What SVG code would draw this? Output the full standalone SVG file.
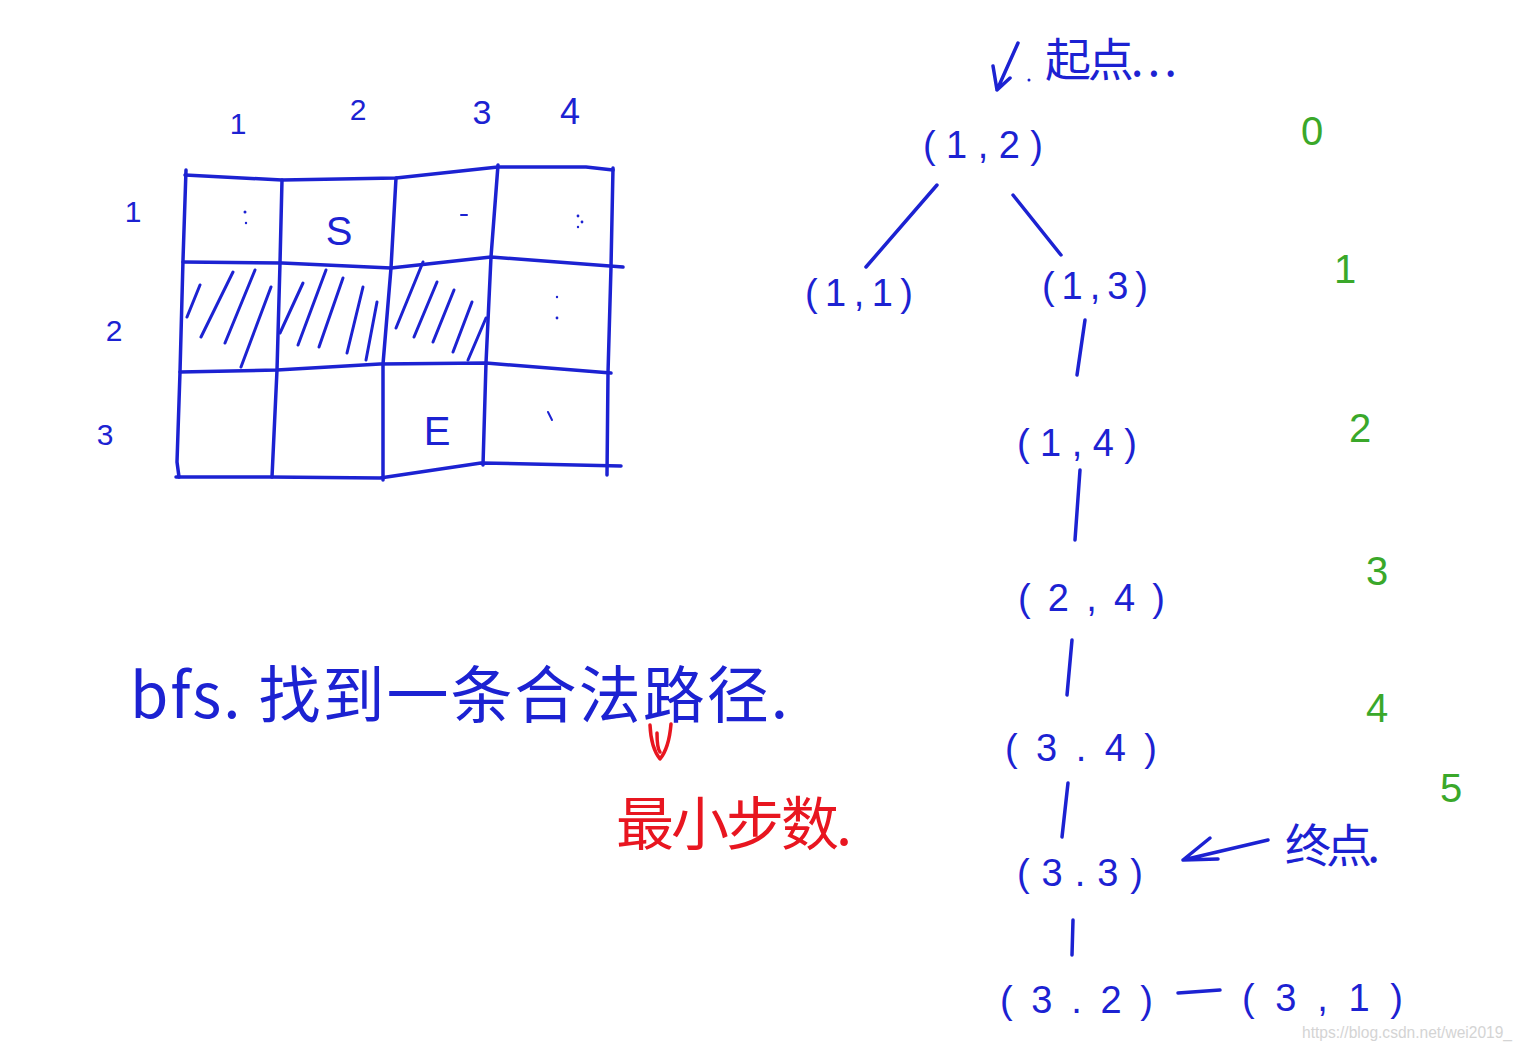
<svg xmlns="http://www.w3.org/2000/svg" width="1526" height="1047" viewBox="0 0 1526 1047">
<style>
.b{fill:none;stroke:#1c22d2;stroke-width:3.5;stroke-linecap:round;stroke-linejoin:round}
.h{fill:none;stroke:#1c22d2;stroke-width:3;stroke-linecap:round}
.r{fill:none;stroke:#e81620;stroke-width:3.5;stroke-linecap:round;stroke-linejoin:round}
.t{font-family:"Liberation Sans","Noto Sans CJK SC",sans-serif;fill:#1c22d2}
.g{font-family:"Liberation Sans",sans-serif;fill:#3aa82a;font-size:40px}
.node{font-family:"Liberation Sans",sans-serif;fill:#1c22d2;font-size:38px}
.cn{font-family:"Noto Sans CJK SC","Liberation Sans",sans-serif}
.dot{fill:#1c22d2}
</style>
<rect width="1526" height="1047" fill="#ffffff"/>

<g id="grid">
<path class="b" d="M185,175 L282,180 L396,178 L498,167 L586,167 L613,170"/>
<path class="b" d="M183,262 L282,263 L391,268 L491,257 L623,267"/>
<path class="b" d="M180,372 L277,370 L380,364 L486,363 L611,373"/>
<path class="b" d="M176,477 L269,477 L380,478 L481,463 L621,466"/>
<path class="b" d="M186,170 L183,260 L180,372 L177,462 L179,477"/>
<path class="b" d="M282,180 L280,263 L277,370 L272,477"/>
<path class="b" d="M396,178 L391,268 L383,364 L383,480"/>
<path class="b" d="M498,165 L491,257 L486,363 L483,465"/>
<path class="b" d="M613,168 L611,267 L608,373 L607,475"/>
<g id="hatch">
<path class="h" d="M200,285 L187,317 M233,272 L201,337 M255,270 L225,343 M271,287 L241,367"/>
<path class="h" d="M303,283 L280,333 M326,270 L298,345 M343,278 L319,347 M363,287 L347,353 M377,302 L366,360"/>
<path class="h" d="M423,262 L396,328 M437,282 L414,337 M454,290 L433,342 M472,302 L453,352 M486,318 L468,360"/>
</g>
<circle class="dot" cx="245" cy="212" r="1.5"/><circle class="dot" cx="246" cy="223" r="1.2"/>
<path class="h" d="M461,215 L467,215" style="stroke-width:2"/>
<circle class="dot" cx="578" cy="216" r="1.4"/><circle class="dot" cx="582" cy="222" r="1.4"/><circle class="dot" cx="578" cy="227" r="1.2"/>
<circle class="dot" cx="557" cy="297" r="1.2"/><circle class="dot" cx="557" cy="318" r="1.4"/>
<path class="h" d="M548,412 L552,420" style="stroke-width:2"/>
<text class="t" x="238" y="134" font-size="30" text-anchor="middle">1</text>
<text class="t" x="358" y="120" font-size="30" text-anchor="middle">2</text>
<text class="t" x="482" y="124" font-size="34" text-anchor="middle">3</text>
<text class="t" x="570" y="124" font-size="36" text-anchor="middle">4</text>
<text class="t" x="133" y="222" font-size="30" text-anchor="middle">1</text>
<text class="t" x="114" y="341" font-size="30" text-anchor="middle">2</text>
<text class="t" x="105" y="445" font-size="30" text-anchor="middle">3</text>
<text class="t" x="339" y="245" font-size="40" text-anchor="middle">S</text>
<text class="t" x="437" y="445" font-size="40" text-anchor="middle">E</text>
</g>

<g id="note-bfs">
<text class="t cn" x="130" y="718" font-size="62" textLength="658" lengthAdjust="spacing">bfs. 找到一条合法路径.</text>
</g>
<g id="note-min">
<path class="r" d="M650,725 Q651,748 660,759 Q669,748 671,724 M657,733 Q657,748 660,752"/>
<text class="cn" x="616" y="845" font-size="58" fill="#e81620" textLength="236" lengthAdjust="spacing">最小步数.</text>
</g>

<g id="start-label">
<path class="b" d="M1018,43 L997,90 M993,66 L997,90 L1010,78"/>
<circle class="dot" cx="1029" cy="80" r="1.5"/>
<text class="t cn" x="1045" y="76" font-size="46" textLength="132" lengthAdjust="spacing">起点. . .</text>
</g>

<g id="end-label">
<text class="t cn" x="1285" y="862" font-size="46" textLength="95" lengthAdjust="spacing">终点.</text>
</g>

<g id="connectors">
<path class="b" d="M937,185 L866,267"/>
<path class="b" d="M1013,195 L1061,255"/>
<path class="b" d="M1085,320 L1077,375"/>
<path class="b" d="M1080,470 L1075,540"/>
<path class="b" d="M1072,640 L1067,695"/>
<path class="b" d="M1068,783 L1062,837"/>
<path class="b" d="M1073,920 L1072,955"/>
<path class="b" d="M1178,993 L1220,990"/>
<path class="b" d="M1268,840 L1183,860 M1210,838 L1183,860 L1218,859"/>
</g>

<g id="node-1-2"><text class="node" x="923" y="158" textLength="120" lengthAdjust="spacing">(1,2)</text></g>
<g id="node-1-1"><text class="node" x="805" y="306" textLength="108" lengthAdjust="spacing">(1,1)</text></g>
<g id="node-1-3"><text class="node" x="1042" y="299" textLength="106" lengthAdjust="spacing">(1,3)</text></g>
<g id="node-1-4"><text class="node" x="1017" y="456" textLength="120" lengthAdjust="spacing">(1,4)</text></g>
<g id="node-2-4"><text class="node" x="1018" y="611" textLength="147" lengthAdjust="spacing">(2,4)</text></g>
<g id="node-3-4"><text class="node" x="1005" y="761" textLength="152" lengthAdjust="spacing">(3.4)</text></g>
<g id="node-3-3"><text class="node" x="1017" y="886" textLength="126" lengthAdjust="spacing">(3.3)</text></g>
<g id="node-3-2"><text class="node" x="1000" y="1013" textLength="153" lengthAdjust="spacing">(3.2)</text></g>
<g id="node-3-1"><text class="node" x="1242" y="1011" textLength="161" lengthAdjust="spacing">(3,1)</text></g>

<g id="levels">
<text class="g" x="1312" y="145" text-anchor="middle">0</text>
<text class="g" x="1345" y="283" text-anchor="middle">1</text>
<text class="g" x="1360" y="442" text-anchor="middle">2</text>
<text class="g" x="1377" y="585" text-anchor="middle">3</text>
<text class="g" x="1377" y="722" text-anchor="middle">4</text>
<text class="g" x="1451" y="802" text-anchor="middle">5</text>
</g>

<text x="1302" y="1038" font-family="Liberation Sans,sans-serif" font-size="16" fill="#d4d4d4" textLength="210" lengthAdjust="spacingAndGlyphs">https://blog.csdn.net/wei2019_</text>
</svg>
